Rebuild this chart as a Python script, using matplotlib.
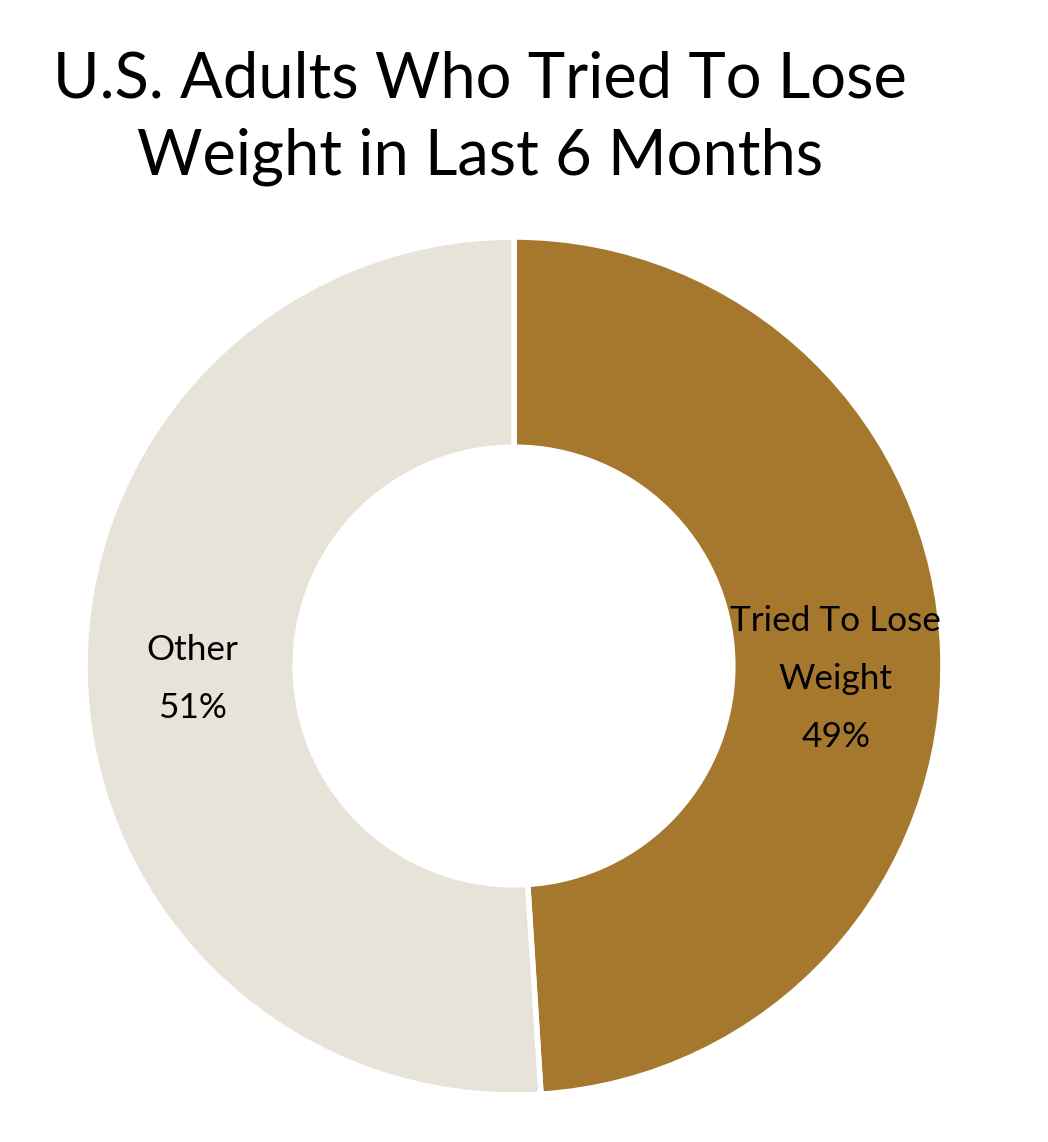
import numpy as np
import matplotlib.pyplot as plt

plt.rcParams['font.family'] = ['Lato', 'DejaVu Sans']

labels = ['Tried To Lose\nWeight', 'Other']
shares = [49, 51]
colors = ['#A6782D', '#E8E3D8']
title = 'U.S. Adults Who Tried To Lose\nWeight in Last 6 Months'

fig = plt.figure(figsize=(10.48, 11.42), dpi=100)
ax = fig.add_axes([85 / 1048, 47 / 1142, 858 / 1048, 858 / 1142])

wedges, _ = ax.pie(shares, colors=colors, startangle=90, counterclock=False,
                   radius=1.0, wedgeprops=dict(width=0.49, edgecolor='white', linewidth=4))
ax.set_xlim(-1, 1)
ax.set_ylim(-1, 1)
ax.set_aspect('equal')

# labels sit in the middle of the ring, a little below the horizontal
for w, lab, val in zip(wedges, labels, shares):
    mid = np.deg2rad((w.theta1 + w.theta2) / 2)
    ax.text(0.75 * np.cos(mid), -0.03, f'{lab}\n{val}%',
            ha='center', va='center', fontsize=25.3, linespacing=2.0, color='black')

fig.text(480 / 1048, 1 - 118 / 1142, title, ha='center', va='center',
         fontsize=45.5, linespacing=1.4, color='black')

fig.savefig('out.png', dpi=100, facecolor='white')
